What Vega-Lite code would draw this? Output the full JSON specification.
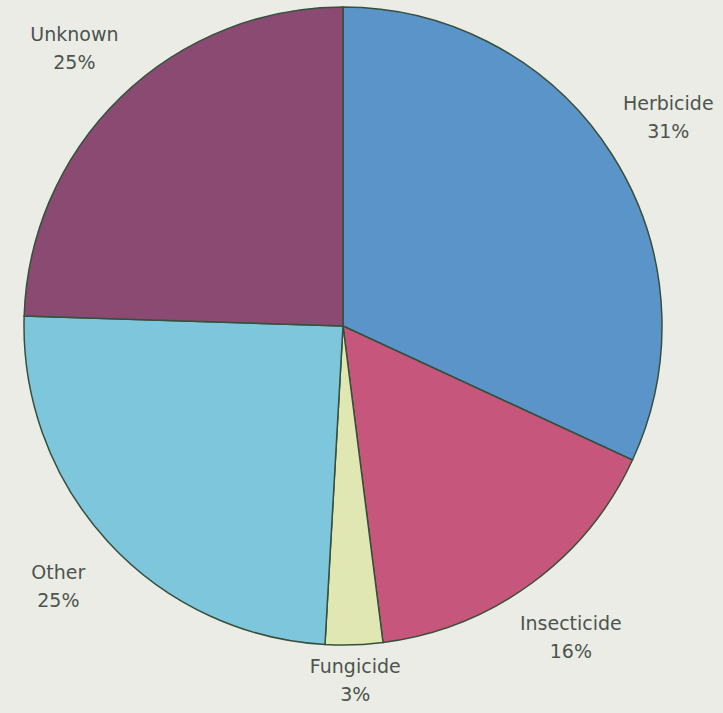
{
  "$schema": "https://vega.github.io/schema/vega-lite/v6.json",
  "width": 686,
  "height": 652,
  "autosize": "none",
  "padding": {"left": 0, "top": 0, "right": 37, "bottom": 61},
  "background": "#ecece7",
  "config": {"view": {"stroke": null}},
  "data": {
    "values": [
      {"category": "Herbicide", "value": 31.9, "label": "Herbicide\n31%", "order": 1},
      {"category": "Insecticide", "value": 16.1, "label": "Insecticide\n16%", "order": 2},
      {"category": "Fungicide", "value": 2.9, "label": "Fungicide\n3%", "order": 3},
      {"category": "Other", "value": 24.6, "label": "Other\n25%", "order": 4},
      {"category": "Unknown", "value": 24.5, "label": "Unknown\n25%", "order": 5}
    ]
  },
  "encoding": {
    "theta": {"field": "value", "type": "quantitative", "stack": true},
    "order": {"field": "order", "type": "quantitative", "sort": "ascending"}
  },
  "layer": [
    {
      "mark": {"type": "arc", "outerRadius": 319, "stroke": "#36503c", "strokeWidth": 1.5},
      "encoding": {
        "color": {
          "field": "category",
          "type": "nominal",
          "scale": {
            "domain": ["Herbicide", "Insecticide", "Fungicide", "Other", "Unknown"],
            "range": ["#5b94c8", "#c7567c", "#e1e7b2", "#7ec6dc", "#8a4a72"]
          },
          "legend": null
        }
      }
    },
    {
      "mark": {"type": "text", "radius": 386, "dy": -14, "font": "DejaVu Sans", "fontSize": 19, "lineHeight": 28, "lineBreak": "\n", "color": "#4b554e", "align": "center", "baseline": "middle"},
      "encoding": {
        "text": {"condition": {"test": "datum.category == 'Fungicide'", "value": ""}, "field": "label", "type": "nominal"}
      }
    },
    {
      "mark": {"type": "text", "radius": 355, "dy": -14, "font": "DejaVu Sans", "fontSize": 19, "lineHeight": 28, "lineBreak": "\n", "color": "#4b554e", "align": "center", "baseline": "middle"},
      "encoding": {
        "text": {"condition": {"test": "datum.category != 'Fungicide'", "value": ""}, "field": "label", "type": "nominal"}
      }
    }
  ]
}
